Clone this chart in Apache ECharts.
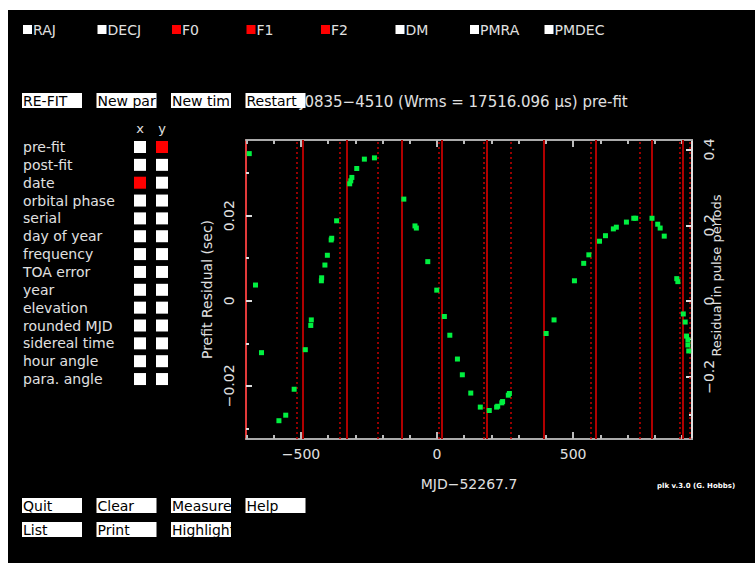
<!DOCTYPE html>
<html>
<head>
<meta charset="utf-8">
<script src="https://cdn.jsdelivr.net/npm/echarts@6/dist/echarts.min.js"></script>
<style>
  html, body { margin: 0; padding: 0; background: #fff; }
  #main { position: absolute; left: 8px; top: 10px; width: 747px; height: 553px; background: #000; }
</style>
</head>
<body>
<div id="main"></div>
<script>
// residual data: days from MJD 52267.7 and prefit residual (sec)
var mjdOffset = [-690, -667, -645, -581, -556, -525, -484, -464, -462, -425, -424, -412, -403, -389, -387, -369,
    -321, -317, -313, -295, -267, -230, -122, -81, -76, -34, -1, 27, 47, 75, 93, 124, 159, 192, 219, 223, 238,
    241, 262, 266, 401, 430, 505, 539, 558, 597, 619, 648, 659, 696, 723, 730, 790, 811, 820, 835, 881, 885,
    905, 912, 917, 922, 922, 925];
var prefitRes = [0.0346, 0.0037, -0.0122, -0.0282, -0.0269, -0.0208, -0.0115, -0.0058, -0.0045, 0.0047, 0.0054,
    0.0084, 0.0107, 0.0143, 0.0147, 0.0188, 0.0275, 0.0282, 0.0290, 0.0311, 0.0333, 0.0336, 0.0239, 0.0176,
    0.0171, 0.0092, 0.0025, -0.0037, -0.0081, -0.0137, -0.0174, -0.0217, -0.0250, -0.0258, -0.0250, -0.0248,
    -0.0240, -0.0237, -0.0222, -0.0218, -0.0077, -0.0045, 0.0047, 0.0088, 0.0108, 0.0140, 0.0153, 0.0169,
    0.0173, 0.0185, 0.0194, 0.0194, 0.0194, 0.0180, 0.0171, 0.0152, 0.0052, 0.0045, -0.0031, -0.0050, -0.0083,
    -0.0092, -0.0104, -0.0118];

// vertical marker lines (days)
var solidLines = [-495, -331, -130, 18, 184, 391, 582, 789, 903];
var dottedLines = [-514, -359, -219, 8, 170, 271, 566, 744, 891, 928];

// axis ticks
var xMajor = [-500, 0, 500];
var xMinor = [-700, -600, -400, -300, -200, -100, 100, 200, 300, 400, 600, 700, 800, 900];
var yMajor = [-0.02, 0, 0.02];
var yMinor = [-0.03, -0.01, 0.01, 0.03];
var pMajor = [-0.2, 0, 0.2, 0.4];
var pMinor = [-0.3, -0.1, 0.1, 0.3];

// plk widgets
var fitParams = ['RAJ', 'DECJ', 'F0', 'F1', 'F2', 'DM', 'PMRA', 'PMDEC'];
var fitFlags = [0, 0, 1, 1, 1, 0, 0, 0];
var plotChoices = ['pre-fit', 'post-fit', 'date', 'orbital phase', 'serial', 'day of year', 'frequency',
    'TOA error', 'year', 'elevation', 'rounded MJD', 'sidereal time', 'hour angle', 'para. angle'];
var xChoice = 2;
var yChoice = 0;
var topButtons = ['RE-FIT', 'New par', 'New tim', 'Restart'];
var bottomButtons1 = ['Quit', 'Clear', 'Measure', 'Help'];
var bottomButtons2 = ['List', 'Print', 'Highlight'];

var titleText = 'J0835\u22124510 (Wrms = 17516.096 \u03bcs) pre-fit';

var OX = 8, OY = 10;
var FONT = 'DejaVu Sans';
var TXT = '#e0e0e0';

function minus(v) {
    var s = String(v);
    return s.replace('-', '\u2212');
}

function text(x, y, str, size, color, align) {
    return {
        type: 'text', x: x - OX, y: y - OY, z: 10,
        style: {
            text: str, fill: color || TXT, font: (size || 14) + 'px "' + FONT + '"',
            textAlign: align || 'left', textVerticalAlign: 'middle',
            align: align || 'left', verticalAlign: 'middle'
        }
    };
}
function box(x, y, w, h, color) {
    return { type: 'rect', z: 11, shape: { x: x - OX, y: y - OY, width: w, height: h }, style: { fill: color } };
}

var graphics = [];
// title first, buttons drawn over it
graphics.push(text(300, 102, titleText, 15));

fitParams.forEach(function (p, i) {
    var x = 23 + i * 74.5;
    graphics.push(box(x, 25, 9, 9, fitFlags[i] ? '#ff0000' : '#ffffff'));
    graphics.push(text(x + 10, 30, p, 14));
});

function buttonRow(list, y) {
    list.forEach(function (b, i) {
        var x = 22 + i * 74.5;
        var r = box(x, y, 60, 15, '#ffffff');
        r.z = 12;
        graphics.push(r);
        var t = text(x + 1, y + 8, b, 14, '#000');
        t.z = 13;
        graphics.push(t);
    });
}
buttonRow(topButtons, 93);
buttonRow(bottomButtons1, 498);
buttonRow(bottomButtons2, 522);

graphics.push(text(140, 128, 'x', 13, TXT, 'center'));
graphics.push(text(162, 128, 'y', 13, TXT, 'center'));
plotChoices.forEach(function (c, i) {
    var y = 141 + i * 17.85;
    graphics.push(text(23, y + 6, c, 14));
    graphics.push(box(134, y, 12, 12, i === xChoice ? '#ff0000' : '#ffffff'));
    graphics.push(box(156, y, 12, 12, i === yChoice ? '#ff0000' : '#ffffff'));
});
var plk = text(657, 486, 'plk v.3.0 (G. Hobbs)', 7, '#ffffff');
plk.style.font = 'bold 7px "' + FONT + '"';
graphics.push(plk);

var chart = echarts.init(document.getElementById('main'), null, { renderer: 'svg' });

function xAxisDef(pos, ticks, len, showLine, labels) {
    return {
        type: 'value', position: pos, min: -702, max: 937,
        splitLine: { show: false },
        axisLine: { show: showLine, onZero: false, lineStyle: { color: '#aaaaaa', width: 2 } },
        axisTick: { inside: true, length: len, customValues: ticks, lineStyle: { color: '#bbbbbb', width: 2 } },
        axisLabel: labels ? {
            customValues: ticks, color: TXT, fontFamily: FONT, fontSize: 14, margin: 8,
            formatter: minus
        } : { show: false }
    };
}
function yAxisDef(pos, min, max, ticks, len, showLine, labels, lineColor) {
    return {
        type: 'value', position: pos, min: min, max: max,
        splitLine: { show: false },
        axisLine: { show: showLine, onZero: false, lineStyle: { color: lineColor, width: 2 } },
        axisTick: { inside: true, length: len, customValues: ticks, lineStyle: { color: '#dddddd', width: 2 } },
        axisLabel: labels ? {
            customValues: ticks, color: TXT, fontFamily: FONT, fontSize: 14, margin: 10, rotate: 90,
            formatter: minus
        } : { show: false }
    };
}

var xBottom = xAxisDef('bottom', xMajor, 7, true, true);
xBottom.name = 'MJD\u221252267.7';
xBottom.nameLocation = 'middle';
xBottom.nameGap = 38;
xBottom.nameTextStyle = { color: TXT, fontFamily: FONT, fontSize: 14 };

var yLeft = yAxisDef('left', -0.0325, 0.0378, yMajor, 6, true, true, '#e23a3a');
yLeft.name = 'Prefit Residual (sec)';
yLeft.nameLocation = 'middle';
yLeft.nameRotate = 90;
yLeft.nameGap = 30;
yLeft.nameTextStyle = { color: TXT, fontFamily: FONT, fontSize: 14 };

var yRight = yAxisDef('right', -0.364, 0.425, pMajor, 6, true, true, '#dddddd');
yRight.name = 'Residual in pulse periods';
yRight.nameLocation = 'middle';
yRight.nameRotate = 90;
yRight.nameGap = 18;
yRight.nameMoveOverlap = false;
yRight.nameTextStyle = { color: TXT, fontFamily: FONT, fontSize: 13, padding: [0, 0, 0, 28] };

var option = {
    animation: false,
    grid: { left: 246 - OX, top: 140 - OY, width: 446, height: 299, containLabel: false },
    xAxis: [
        xBottom,
        xAxisDef('bottom', xMinor, 4, false, false),
        xAxisDef('top', xMajor, 7, true, false),
        xAxisDef('top', xMinor, 4, false, false)
    ],
    yAxis: [
        yLeft,
        yAxisDef('left', -0.0325, 0.0378, yMinor, 3, false, false, '#dddddd'),
        yRight,
        yAxisDef('right', -0.364, 0.425, pMinor, 3, false, false, '#dddddd')
    ],
    graphic: { elements: graphics },
    series: [
        {
            type: 'line', data: [], z: 1,
            markLine: {
                silent: true, symbol: 'none', animation: false,
                label: { show: false },
                lineStyle: { color: '#b00000', width: 2, type: 'solid', opacity: 1 },
                data: solidLines.map(function (v) { return { xAxis: v }; })
            }
        },
        {
            type: 'line', data: [], z: 1,
            markLine: {
                silent: true, symbol: 'none', animation: false,
                label: { show: false },
                lineStyle: { color: '#c80000', width: 1.5, type: [2, 3], opacity: 1 },
                data: dottedLines.map(function (v) { return { xAxis: v }; })
            }
        },
        {
            type: 'scatter', z: 5,
            symbol: 'rect', symbolSize: 5,
            itemStyle: { color: '#00f040', opacity: 1 },
            data: mjdOffset.map(function (d, i) { return [d, prefitRes[i]]; })
        }
    ]
};

chart.setOption(option);
</script>
</body>
</html>
